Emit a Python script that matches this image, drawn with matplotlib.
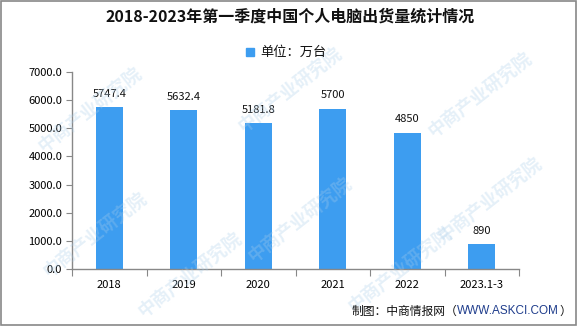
import matplotlib
matplotlib.use("Agg")
import matplotlib.pyplot as plt
from matplotlib.patches import Rectangle

plt.rcParams['font.family'] = ['Noto Sans CJK SC', 'DejaVu Sans']

# Data
years = ["2018", "2019", "2020", "2021", "2022", "2023.1-3"]
shipments = [5747.4, 5632.4, 5181.8, 5700, 4850, 890]
value_labels = ["5747.4", "5632.4", "5181.8", "5700", "4850", "890"]
y_ticks = [0, 1000, 2000, 3000, 4000, 5000, 6000, 7000]

title = "2018-2023年第一季度中国个人电脑出货量统计情况"
unit_label = "单位：万台"
bar_color = "#3d9df0"

W, H = 585, 327
fig = plt.figure(figsize=(W / 100, H / 100), dpi=100)
fig.patch.set_facecolor("white")

ax = fig.add_axes([72 / W, 1 - 269 / H, (519 - 72) / W, (269 - 72) / H])
x = range(len(years))
ax.bar(x, shipments, width=0.36, color=bar_color, zorder=2)
ax.set_xlim(-0.5, len(years) - 0.5)
ax.set_ylim(0, 7000)
ax.set_yticks(y_ticks)
ax.set_yticklabels([f"{v:.1f}" for v in y_ticks], fontsize=8)
ax.set_xticks([i - 0.5 for i in range(len(years) + 1)], minor=False)
ax.set_xticklabels([])
ax.set_xticks(list(x), minor=True)
ax.set_xticklabels(years, minor=True, fontsize=8)
ax.tick_params(axis="x", which="major", length=5, color="#888888", direction="out")
ax.tick_params(axis="x", which="minor", length=0, pad=8)
ax.tick_params(axis="y", length=4, color="#888888", direction="out", pad=3)
for s in ("top", "right"):
    ax.spines[s].set_visible(False)
for s in ("left", "bottom"):
    ax.spines[s].set_color("#888888")
    ax.spines[s].set_linewidth(1.0)

for i, (v, lab) in enumerate(zip(shipments, value_labels)):
    ax.annotate(lab, (i, v), xytext=(0, 6), textcoords="offset points",
                ha="center", va="bottom", fontsize=8, color="#111111")

# Title and unit legend
fig.text(290 / W, 1 - 17 / H, title, ha="center", va="center",
         fontsize=11.5, fontweight="bold", color="#111111")
fig.patches.append(Rectangle((246 / W, 1 - 56 / H), 8 / W, 8 / H,
                             transform=fig.transFigure, color=bar_color))
fig.text(260 / W, 1 - 52 / H, unit_label, ha="left", va="center",
         fontsize=9.5, color="#111111")

# Source line, laid out right to left so it ends inside the frame
ypos = 1 - 311 / H
fig.canvas.draw()
close = fig.text(571 / W, ypos, "）", ha="right", va="center",
                 fontsize=8.5, color="#111111")
fig.canvas.draw()
x_right = close.get_window_extent().x0
url = fig.text(x_right / W, ypos, "WWW.ASKCI.COM", ha="right", va="center",
               fontsize=8.5, color="#1f3d8c",
               family=["Liberation Sans", "DejaVu Sans"])
fig.canvas.draw()
x_right = url.get_window_extent().x0
fig.text(x_right / W, ypos, "制图：中商情报网（", ha="right", va="center",
         fontsize=8.5, color="#111111")

# Watermark
wm_positions = [(90, 110), (290, 90), (480, 95), (95, 235), (300, 220),
                (490, 200), (190, 275), (400, 270)]
for px, py in wm_positions:
    fig.text(px / W, 1 - py / H, "中商产业研究院", ha="center", va="center",
             rotation=38, fontsize=13, fontweight="bold", color="#a9cdea",
             alpha=0.3, zorder=0)

# Outer frame
fig.patches.append(Rectangle((0.5 / W, 1 - 325 / H), 575 / W, 324.5 / H,
                             transform=fig.transFigure, fill=False,
                             edgecolor="#888888", linewidth=1.2))

fig.savefig("out.png", dpi=100, facecolor="white")
